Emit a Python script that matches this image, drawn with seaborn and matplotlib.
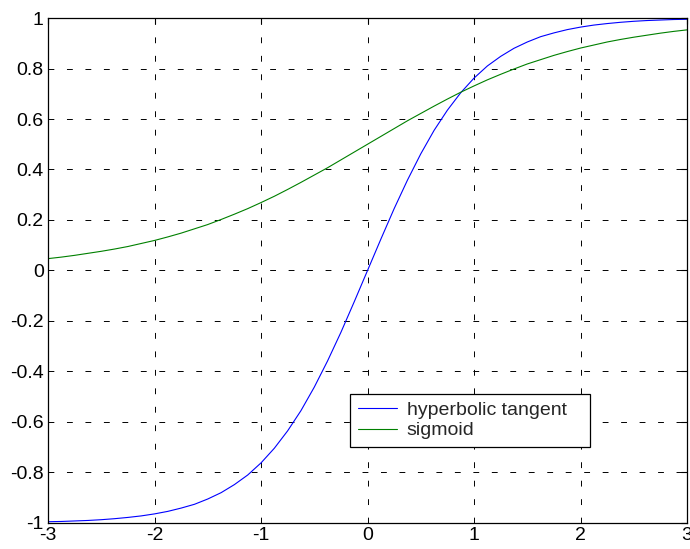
import matplotlib
matplotlib.use('Agg')
import matplotlib.pyplot as plt
import seaborn as sns
import pandas as pd

# valores (pasos de 0.125)
x_vals = [-3.0, -2.875, -2.75, -2.625, -2.5, -2.375, -2.25, -2.125, -2.0, -1.875,
          -1.75, -1.625, -1.5, -1.375, -1.25, -1.125, -1.0, -0.875, -0.75, -0.625,
          -0.5, -0.375, -0.25, -0.125, 0.0, 0.125, 0.25, 0.375, 0.5, 0.625, 0.75,
          0.875, 1.0, 1.125, 1.25, 1.375, 1.5, 1.625, 1.75, 1.875, 2.0, 2.125, 2.25,
          2.375, 2.5, 2.625, 2.75, 2.875, 3.0]
tanh_vals = [-0.995, -0.994, -0.992, -0.990, -0.987, -0.983, -0.978, -0.972, -0.964,
             -0.954, -0.941, -0.926, -0.905, -0.880, -0.848, -0.810, -0.762, -0.704,
             -0.635, -0.555, -0.462, -0.358, -0.245, -0.124, 0.0, 0.124, 0.245, 0.358,
             0.462, 0.555, 0.635, 0.704, 0.762, 0.810, 0.848, 0.880, 0.905, 0.926,
             0.941, 0.954, 0.964, 0.972, 0.978, 0.983, 0.987, 0.990, 0.992, 0.994, 0.995]
sigmoid_vals = [0.047, 0.053, 0.060, 0.068, 0.076, 0.085, 0.095, 0.107, 0.119, 0.133,
                0.148, 0.165, 0.182, 0.202, 0.223, 0.245, 0.269, 0.294, 0.321, 0.349,
                0.378, 0.407, 0.438, 0.469, 0.500, 0.531, 0.562, 0.593, 0.622, 0.651,
                0.679, 0.706, 0.731, 0.755, 0.777, 0.798, 0.818, 0.835, 0.852, 0.867,
                0.881, 0.893, 0.905, 0.915, 0.924, 0.932, 0.940, 0.947, 0.953]
x_ticks = [-3, -2, -1, 0, 1, 2, 3]
y_ticks = [-1, -0.8, -0.6, -0.4, -0.2, 0, 0.2, 0.4, 0.6, 0.8, 1]
y_labels = ["-1", "-0.8", "-0.6", "-0.4", "-0.2", "0", "0.2", "0.4", "0.6", "0.8", "1"]

sns.set_style("white")
plt.rcParams['font.family'] = ['Liberation Sans', 'DejaVu Sans']

df = pd.DataFrame({"x": x_vals, "tanh": tanh_vals, "sigmoid": sigmoid_vals})

fig = plt.figure(figsize=(6.9, 5.49), dpi=100)
ax = fig.add_axes([0.0696, 0.0474, 0.9261, 0.9198])

sns.lineplot(data=df, x="x", y="tanh", color="#0000ff", linewidth=0.8,
             label="hyperbolic tangent", ax=ax)
sns.lineplot(data=df, x="x", y="sigmoid", color="#008000", linewidth=0.8,
             label="sigmoid", ax=ax)

ax.set_xlim(-3, 3)
ax.set_ylim(-1, 1)
ax.set_xticks(x_ticks)
ax.set_xticklabels([str(t) for t in x_ticks])
ax.set_yticks(y_ticks)
ax.set_yticklabels(y_labels)
ax.set_xlabel("")
ax.set_ylabel("")
ax.grid(True, color="black", linestyle=(0, (6, 13)), linewidth=0.7)
ax.tick_params(direction="in", length=4, width=0.8, top=True, right=True,
               labelsize=14, colors="black", pad=3)
for s in ax.spines.values():
    s.set_color("black")
    s.set_linewidth(0.9)

leg = ax.legend(loc="lower left", bbox_to_anchor=(0.473, 0.150, 0.375, 0.107),
                mode="expand", fontsize=14, frameon=True, fancybox=False,
                edgecolor="black", framealpha=1, borderpad=0.4,
                handlelength=2.0, labelspacing=0.15, handletextpad=0.5,
                borderaxespad=0)
leg.get_frame().set_linewidth(0.9)

fig.savefig("out.png", dpi=100)
